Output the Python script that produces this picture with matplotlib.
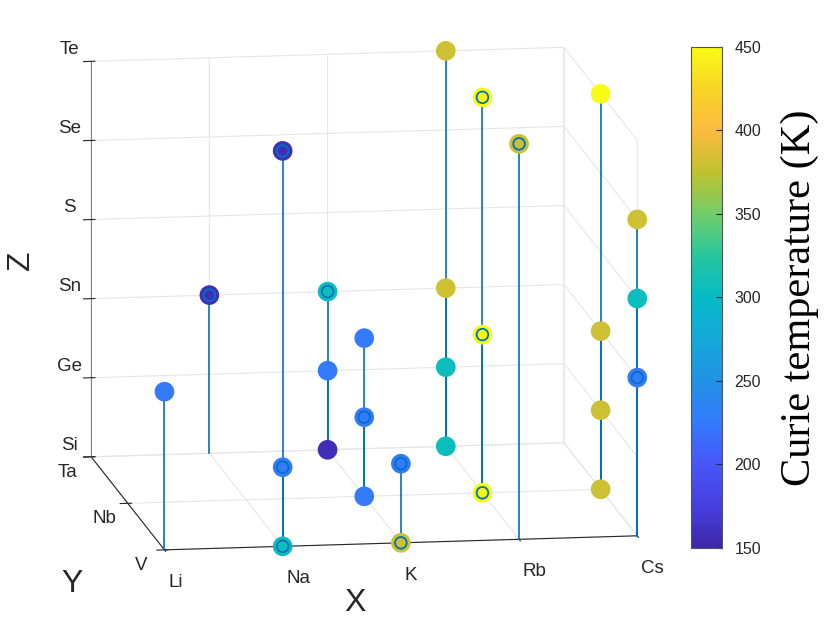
import numpy as np
import matplotlib
matplotlib.use("Agg")
import matplotlib.pyplot as plt
from matplotlib.colors import LinearSegmentedColormap

plt.rcParams["font.family"] = ["Liberation Sans", "DejaVu Sans"]
plt.rcParams["grid.color"] = "#e6e6e6"
plt.rcParams["grid.linewidth"] = 0.8

# tick labels of the three sites
x_labels = ["Li", "Na", "K", "Rb", "Cs"]
y_labels = ["V", "Nb", "Ta"]
z_labels = ["Si", "Ge", "Sn", "S", "Se", "Te"]

# one entry per compound
site_x = ["Li", "Na", "Na", "Na", "Na", "K", "K", "K", "K", "K", "K", "K", "K",
          "Rb", "Rb", "Rb", "Rb", "Rb", "Rb", "Rb", "Rb",
          "Cs", "Cs", "Cs", "Cs", "Cs", "Cs", "Cs"]
site_y = ["V", "Ta", "V", "V", "V", "Ta", "Ta", "Ta", "Nb", "Nb", "Nb", "V", "V",
          "Ta", "Ta", "Ta", "Ta", "Nb", "Nb", "Nb", "V",
          "Nb", "Nb", "Nb", "Nb", "V", "V", "V"]
site_z = ["Sn", "Sn", "Te", "Ge", "Si", "Si", "Ge", "Sn", "Si", "Ge", "Sn", "Si", "Ge",
          "Si", "Ge", "Sn", "Te", "Si", "Sn", "Te", "Te",
          "Si", "Ge", "Sn", "Te", "Sn", "S", "Se"]
curie_t = [225, 158, 158, 225, 305, 158, 225, 305, 225, 225, 225, 380, 225,
           305, 305, 380, 380, 450, 450, 450, 380,
           380, 380, 380, 450, 225, 305, 380]
# points that also show the hollow stem marker
ringed = [0, 1, 1, 1, 1, 0, 0, 1, 0, 1, 0, 1, 1,
          0, 0, 0, 0, 1, 1, 1, 1,
          0, 0, 0, 0, 1, 0, 0]

xs = np.array([x_labels.index(s) for s in site_x])
ys = np.array([y_labels.index(s) for s in site_y])
zs = np.array([z_labels.index(s) for s in site_z])
ring = np.array(ringed, dtype=bool)

# parula-like colormap
parula = LinearSegmentedColormap.from_list("parula", [
    (0.243, 0.150, 0.660), (0.275, 0.250, 0.880), (0.280, 0.340, 0.970),
    (0.200, 0.480, 0.990), (0.130, 0.570, 0.900), (0.080, 0.660, 0.850),
    (0.020, 0.730, 0.780), (0.150, 0.780, 0.620), (0.450, 0.800, 0.420),
    (0.750, 0.760, 0.180), (0.990, 0.730, 0.250), (0.970, 0.830, 0.150),
    (0.977, 0.984, 0.080)])

stem_color = (0, 0.447, 0.741)
text_color = "#262626"

fig = plt.figure(figsize=(8.3, 6.23), dpi=100)
ax = fig.add_axes([15.5 / 830, 4.5 / 623, 0.82, 1.0], projection="3d", computed_zorder=False)
ax.set_proj_type("ortho")
ax.view_init(elev=11.2, azim=-98.7)
ax.set_box_aspect((477.6, 483.8, 402.5), zoom=1.233)

for x, y, z in zip(xs, ys, zs):
    ax.plot([x, x], [y, y], [0, z], color=stem_color, lw=1.2, zorder=1)

sc = ax.scatter(xs, ys, zs, c=curie_t, cmap=parula, vmin=150, vmax=450,
                s=200, depthshade=False, edgecolors="none", zorder=2)
ax.scatter(xs[ring], ys[ring], zs[ring], facecolors="none", edgecolors=stem_color,
           s=70, linewidths=1.3, depthshade=False, zorder=3)

ax.set_xlim(0, len(x_labels) - 1)
ax.set_ylim(0, len(y_labels) - 1)
ax.set_zlim(0, len(z_labels) - 1)
ax.set_xticks(range(len(x_labels)), x_labels)
ax.set_yticks(range(len(y_labels)), y_labels)
ax.set_zticks(range(len(z_labels)), z_labels)
ax.tick_params(labelsize=13.5, colors=text_color)
ax.tick_params(axis="z", pad=1.3)
for lab in ax.get_xticklabels():
    lab.set_ha("left")
for lab in ax.get_yticklabels():
    lab.set_va("baseline")
for lab in ax.get_zticklabels():
    lab.set_va("bottom")

for axis in (ax.xaxis, ax.yaxis, ax.zaxis):
    axis.set_pane_color((1, 1, 1, 0))
    axis.pane.set_edgecolor("#e6e6e6")
    axis.line.set_color(text_color)
    axis.line.set_linewidth(0.8)
ax.zaxis.line.set_color("#808080")

fig.text(355 / 830, 1 - 603 / 623, "X", fontsize=23, color=text_color, ha="center", va="center")
fig.text(72 / 830, 1 - 584 / 623, "Y", fontsize=23, color=text_color, ha="center", va="center")
fig.text(21 / 830, 1 - 260 / 623, "Z", fontsize=23, color=text_color, ha="center", va="center",
         rotation=90)

cax = fig.add_axes([691 / 830, 75 / 623, 31 / 830, 501 / 623])
cb = fig.colorbar(sc, cax=cax, ticks=range(150, 451, 50))
cb.outline.set_edgecolor("#555555")
cb.outline.set_linewidth(0.8)
cax.tick_params(direction="in", length=4, pad=9, labelsize=11.5, colors=text_color)
cb.set_label("Curie temperature (K)", family="Liberation Serif", size=30.5, labelpad=14)

fig.savefig("out.png", dpi=100)
